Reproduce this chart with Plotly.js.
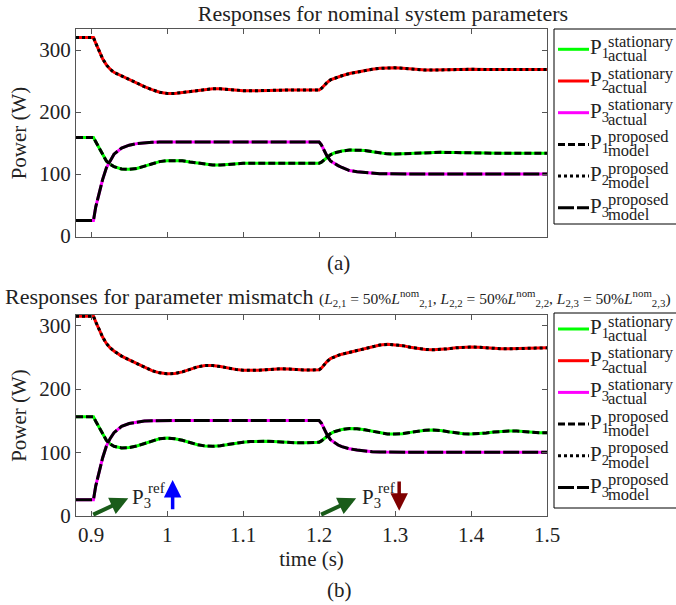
<!DOCTYPE html>
<html><head><meta charset="utf-8">
<script src="https://cdn.plot.ly/plotly-3.0.1.min.js"></script>
<style>html,body{margin:0;padding:0;background:#fff;} #chart{width:676px;height:605px;}</style>
</head><body><div id="chart"></div>
<script>
// ---------- data: top panel (nominal parameters) ----------
const tTop = [0.88, 0.903, 0.906, 0.91, 0.915, 0.92, 0.925, 0.93, 0.94, 0.95, 0.96, 0.97, 0.98, 0.99, 1.0, 1.01, 1.02, 1.03, 1.04, 1.05, 1.06, 1.07, 1.08, 1.09, 1.1, 1.12, 1.14, 1.16, 1.18, 1.2, 1.203, 1.206, 1.21, 1.215, 1.22, 1.225, 1.23, 1.24, 1.25, 1.26, 1.27, 1.28, 1.29, 1.3, 1.31, 1.32, 1.33, 1.34, 1.35, 1.36, 1.38, 1.4, 1.42, 1.44, 1.46, 1.48, 1.5];
const p1Top = [159, 159, 152, 143, 131, 121, 115.5, 112, 108, 107.5, 109, 112.5, 116.5, 120, 121.5, 122, 121.5, 119.5, 117.5, 115.5, 114.5, 114.5, 115.5, 116.5, 117.3, 117.5, 117.3, 117.3, 117.3, 117.3, 119, 122, 126.5, 131, 134, 135.8, 137, 138.7, 138.8, 138, 136, 134, 132.5, 132.2, 132.5, 133.3, 134, 134.5, 134.8, 135, 134.5, 133.8, 133.4, 133.4, 133.4, 133.4, 133.4];
const p2Top = [320, 320, 311, 299, 286, 276, 269, 264, 258, 252, 246, 241, 236, 232, 230, 230, 231.5, 233, 235, 236.5, 237.5, 237.5, 236.5, 235.5, 234.5, 234.5, 235.5, 235.5, 235.5, 235.5, 238, 242, 247, 252, 254.5, 256.5, 258.5, 262, 264.5, 267, 269, 270.5, 271.3, 271.3, 270.5, 269.3, 268.3, 267.7, 267.7, 268, 268.8, 268.9, 268.6, 268.4, 268.4, 268.5, 268.5];
const p3Top = [25, 25, 47, 68, 91, 110, 122, 132, 142, 146.5, 149, 150.5, 151.2, 151.5, 151.6, 151.6, 151.6, 151.6, 151.6, 151.6, 151.6, 151.6, 151.6, 151.6, 151.6, 151.6, 151.6, 151.6, 151.6, 151.6, 147, 139, 130, 121, 117, 113.5, 110.5, 105.5, 103.5, 102.2, 101.2, 100.6, 100.3, 100, 100, 100, 100, 100, 100, 100, 100, 100, 100, 100, 100, 100, 100];

// ---------- data: bottom panel (parameter mismatch) ----------
const tBot = [0.88, 0.903, 0.906, 0.91, 0.915, 0.92, 0.925, 0.93, 0.94, 0.95, 0.96, 0.97, 0.98, 0.99, 1.0, 1.01, 1.02, 1.03, 1.04, 1.05, 1.06, 1.07, 1.08, 1.09, 1.1, 1.11, 1.12, 1.13, 1.14, 1.15, 1.16, 1.17, 1.18, 1.19, 1.2, 1.203, 1.206, 1.21, 1.215, 1.22, 1.225, 1.23, 1.24, 1.25, 1.26, 1.27, 1.28, 1.29, 1.3, 1.31, 1.32, 1.33, 1.34, 1.35, 1.36, 1.37, 1.38, 1.39, 1.4, 1.41, 1.42, 1.43, 1.44, 1.45, 1.46, 1.47, 1.48, 1.49, 1.5];
const p1Bot = [156, 156, 149, 140, 128, 119, 113, 109.5, 107, 107.5, 110, 114, 118.5, 121.5, 122.5, 121.5, 119, 115.5, 112, 110, 109.5, 110.5, 112.5, 114.5, 116, 117, 117.5, 117.5, 117, 116, 115.5, 115, 115, 115.5, 116, 118, 121, 125, 129.5, 132.5, 134.5, 136, 137.5, 137.3, 135.5, 133, 130.5, 129, 128.8, 129.5, 131.5, 133.5, 135, 135.3, 134.5, 132.5, 130.5, 129.3, 129, 129.5, 130.5, 132, 133.3, 133.7, 133.5, 132.5, 131.5, 131, 131];
const p2Bot = [315, 315, 306, 295, 282, 272, 265, 260, 252, 246, 240, 234, 229, 225.5, 224, 224.5, 227, 231, 235, 237, 237, 235.5, 233, 231, 229.5, 229, 229.5, 230.5, 231.5, 232, 231.5, 230.5, 230, 230, 230.5, 233, 238, 243, 248, 251, 253, 255, 258, 261, 264.5, 267.5, 269.5, 270.5, 270, 268.5, 266, 264, 262.5, 262, 262.5, 263.5, 265, 266, 266.3, 266, 265, 264, 263.5, 263.5, 264, 264.5, 265, 265, 265];
const p3Bot = [25, 25, 47, 68, 91, 110, 122, 131, 141, 145.5, 148, 149.5, 150, 150.3, 150.3, 150.3, 150.3, 150.3, 150.3, 150.3, 150.3, 150.3, 150.3, 150.3, 150.3, 150.3, 150.3, 150.3, 150.3, 150.3, 150.3, 150.3, 150.3, 150.3, 150.3, 146, 138, 129, 120, 115, 111.5, 109, 105.5, 103.5, 102, 101, 100.5, 100.2, 100, 100, 100, 100, 100, 100, 100, 100, 100, 100, 100, 100, 100, 100, 100, 100, 100, 100, 100, 100, 100];

// ---------- labels ----------
const yTicks = [0, 100, 200, 300];
const legendBase = ['P<sub>1</sub>', 'P<sub>2</sub>', 'P<sub>3</sub>', 'P<sub>1</sub>', 'P<sub>2</sub>', 'P<sub>3</sub>'];
const legendSup = ['stationary', 'stationary', 'stationary', 'proposed', 'proposed', 'proposed'];
const legendSub = ['actual', 'actual', 'actual', 'model', 'model', 'model'];
const refStepTimes = [0.9, 1.2];          // P3 reference changes
const refStepDir = ['up', 'down'];

// ---------- styles ----------
const F = 'Liberation Serif';
const TXT = '#222';
const colActual = ['#00ff00', '#ff0000', '#ff00ff'];
const dashModel = ['7px,3px', '3px,3px', '16px,3px'];

const W = 676, H = 605, ML = 76, MR = 129, MT = 29, MB = 89;
const PW = W - ML - MR, PH = H - MT - MB;
const px = x => (x - ML) / PW;
const py = y => (H - MB - y) / PH;

const traces = [];
function addPanel(t, series, xa, ya) {
  series.forEach((s, i) => traces.push({x: t, y: s, xaxis: xa, yaxis: ya, mode: 'lines', hoverinfo: 'skip',
    line: {color: colActual[i], width: 3}}));
  series.forEach((s, i) => traces.push({x: t, y: s, xaxis: xa, yaxis: ya, mode: 'lines', hoverinfo: 'skip',
    line: {color: '#000', width: 3, dash: dashModel[i]}}));
}
addPanel(tTop, [p1Top, p2Top, p3Top], 'x', 'y');
addPanel(tBot, [p1Bot, p2Bot, p3Bot], 'x2', 'y2');

const shapes = [], annotations = [];
function txt(text, xPx, yPx, size, extra) {
  annotations.push(Object.assign({text: text, xref: 'paper', yref: 'paper', x: px(xPx), y: py(yPx),
    xanchor: 'left', yanchor: 'middle', showarrow: false, borderpad: 0,
    font: {family: F, size: size, color: TXT}}, extra || {}));
}
function addLegend(boxTop, firstY) {
  shapes.push({type: 'rect', xref: 'paper', yref: 'paper', x0: px(554), x1: px(700), y0: py(boxTop), y1: py(boxTop + 195),
    line: {color: '#000', width: 1}, fillcolor: 'rgba(255,255,255,1)'});
  for (let i = 0; i < 6; i++) {
    const yc = firstY + i * 31.7;
    const isModel = i >= 3;
    shapes.push({type: 'line', xref: 'paper', yref: 'paper', x0: px(558), x1: px(589), y0: py(yc), y1: py(yc),
      line: {color: isModel ? '#000' : colActual[i], width: 3, dash: isModel ? dashModel[i - 3] : 'solid'}});
    txt(legendBase[i], 589, yc - 1, 21);
    txt(legendSup[i], 607, yc - 8, 16.5);
    txt(legendSub[i], 607, yc + 6.5, 16.5);
  }
}
addLegend(29, 49.3);
addLegend(313, 329);

// panel captions
annotations.push({text: '(a)', xref: 'paper', yref: 'paper', x: px(338), y: py(263), xanchor: 'center', yanchor: 'middle',
  showarrow: false, font: {family: F, size: 21, color: TXT}});
annotations.push({text: '(b)', xref: 'paper', yref: 'paper', x: px(339), y: py(590), xanchor: 'center', yanchor: 'middle',
  showarrow: false, font: {family: F, size: 21, color: TXT}});

// bottom panel title
const mm = k => '<i>L</i><sub>2,' + k + '</sub> = 50%<i>L</i><sup>nom</sup><sub>2,' + k + '</sub>';
annotations.push({text: 'Responses for parameter mismatch <span style="font-size:15.5px">(' + mm(1) + ', ' + mm(2) + ', ' + mm(3) + ')</span>',
  xref: 'paper', yref: 'paper', x: px(3), y: py(296), xanchor: 'left', yanchor: 'middle', showarrow: false,
  font: {family: F, size: 22, color: TXT}});

// P3 reference step arrows
const green = '#1a5c1a';
refStepTimes.forEach((t0, k) => {
  annotations.push({xref: 'x2', yref: 'y2', axref: 'x2', ayref: 'y2', x: t0 + 0.0488, y: 27.3, ax: t0 + 0.0007, ay: 0.5,
    text: '', showarrow: true, arrowhead: 2, arrowsize: 0.9, arrowwidth: 4, arrowcolor: green});
  if (refStepDir[k] === 'up') {
    annotations.push({xref: 'x2', yref: 'y2', axref: 'x2', ayref: 'y2', x: 1.0072, y: 56.2, ax: 1.0072, ay: 7.7,
      text: '', showarrow: true, arrowhead: 2, arrowsize: 1, arrowwidth: 3.5, arrowcolor: '#0000ff'});
  } else {
    annotations.push({xref: 'x2', yref: 'y2', axref: 'x2', ayref: 'y2', x: 1.3054, y: 7.7, ax: 1.3054, ay: 56.2,
      text: '', showarrow: true, arrowhead: 2, arrowsize: 1, arrowwidth: 3.5, arrowcolor: '#7f0000'});
  }
});
txt('P<sub>3</sub>', 131, 498, 21); txt('ref', 147, 488, 15);
txt('P<sub>3</sub>', 361, 498, 21); txt('ref', 377, 488, 15);

const ax = {showline: true, linecolor: '#555', linewidth: 1, mirror: 'ticks', ticks: 'inside', ticklen: 5,
  tickcolor: '#555', showgrid: false, zeroline: false, tickfont: {family: F, size: 21, color: TXT}};

const layout = {
  width: W, height: H, margin: {l: ML, r: MR, t: MT, b: MB, pad: 0},
  paper_bgcolor: '#fff', plot_bgcolor: '#fff', showlegend: false,
  font: {family: F, size: 21, color: TXT},
  title: {text: 'Responses for nominal system parameters', xref: 'container', x: 383 / W, xanchor: 'center',
    yref: 'container', y: 1 - 13 / H, yanchor: 'middle', font: {family: F, size: 22, color: TXT}},
  xaxis: Object.assign({}, ax, {domain: [0, 1], anchor: 'y', range: [0.88, 1.5], tick0: 0.9, dtick: 0.1, showticklabels: false}),
  yaxis: Object.assign({}, ax, {domain: [py(237), 1], anchor: 'x', range: [-1.6, 333.9], tickvals: yTicks,
    title: {text: 'Power (W)', standoff: 6, font: {family: F, size: 21, color: TXT}}}),
  xaxis2: Object.assign({}, ax, {domain: [0, 1], anchor: 'y2', range: [0.88, 1.5], tick0: 0.9, dtick: 0.1,
    title: {text: 'time (s)', standoff: 1, font: {family: F, size: 21, color: TXT}}}),
  yaxis2: Object.assign({}, ax, {domain: [0, py(315)], anchor: 'x2', range: [-0.6, 316.9], tickvals: yTicks,
    title: {text: 'Power (W)', standoff: 6, font: {family: F, size: 21, color: TXT}}}),
  shapes: shapes, annotations: annotations
};
Plotly.newPlot('chart', traces, layout, {displayModeBar: false, staticPlot: true});
</script></body></html>
